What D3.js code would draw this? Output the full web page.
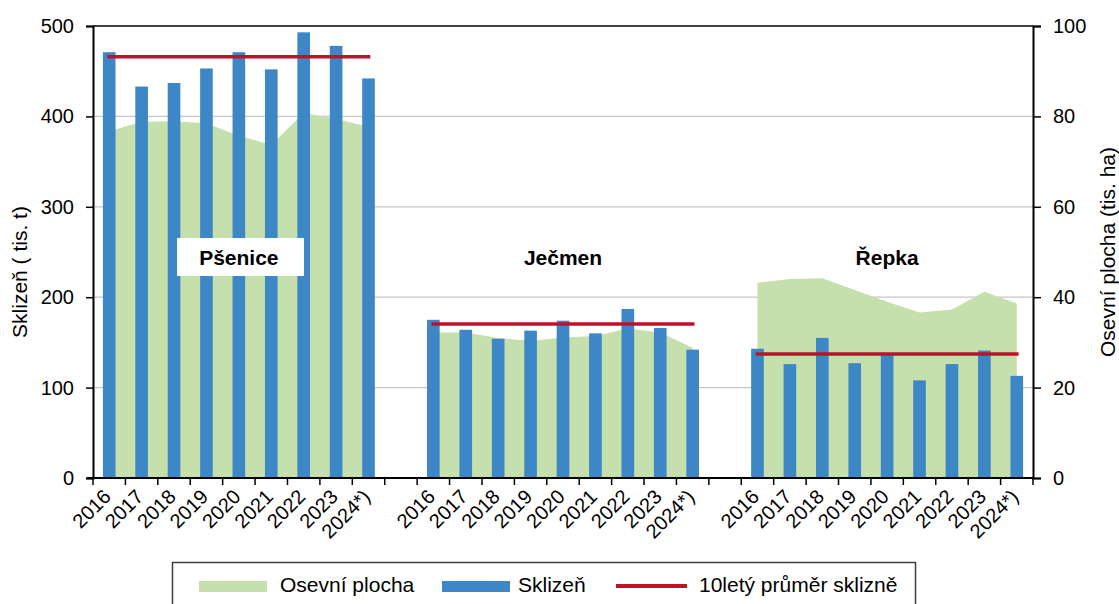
<!DOCTYPE html>
<html>
<head>
<meta charset="utf-8">
<script src="https://cdn.jsdelivr.net/npm/d3@7/dist/d3.min.js"></script>
<style>
  html, body { margin: 0; padding: 0; background: #fff; }
  svg { display: block; }
  text { font-family: "Liberation Sans", Arial, sans-serif; fill: #000; }
</style>
</head>
<body>
<svg id="chart" width="1119" height="604"></svg>
<script>
// ---- data ----
const years = ["2016", "2017", "2018", "2019", "2020", "2021", "2022", "2023", "2024*)"];
const crops = ["Pšenice", "Ječmen", "Řepka"];
// Sklizeň (tis. t)
const harvestPsenice = [471, 433, 437, 453, 471, 452, 493, 478, 442];
const harvestJecmen  = [175, 164, 154, 163, 174, 160, 187, 166, 142];
const harvestRepka   = [143, 126, 155, 127, 136, 108, 126, 141, 113];
// Osevní plocha (tis. ha)
const areaPsenice = [76.7, 78.8, 78.9, 78.5, 75.7, 73.7, 80.8, 79.4, 77.7];
const areaJecmen  = [32.2, 32.2, 31.0, 30.3, 31.1, 31.4, 33.1, 32.2, 28.8];
const areaRepka   = [43.2, 44.0, 44.2, 41.6, 39.0, 36.6, 37.3, 41.2, 38.6];
// 10letý průměr sklizně (tis. t)
const avgHarvest = [466, 170.4, 137.2];
const leftTicks = [0, 100, 200, 300, 400, 500];
const rightTicks = [0, 20, 40, 60, 80, 100];

const harvest = [harvestPsenice, harvestJecmen, harvestRepka];
const area = [areaPsenice, areaJecmen, areaRepka];

// ---- layout ----
const svg = d3.select("#chart");
const L = 93, R = 1033, T = 26, B = 478;
const font = "Liberation Sans, Arial, sans-serif";
const colBlue = "#3e87c7", colGreen = "#c5dfad", colRed = "#c0102a";

// band keys: 9 years per crop with one empty slot between groups
const keys = [];
crops.forEach((c, ci) => {
  years.forEach(y => keys.push(c + "|" + y));
  if (ci < crops.length - 1) keys.push("gap" + ci);
});
const x = d3.scaleBand().domain(keys).range([L, R]).padding(0);
const yL = d3.scaleLinear().domain([0, 500]).range([B, T]);
const yR = d3.scaleLinear().domain([0, 100]).range([B, T]);
const cx = k => x(k) + x.bandwidth() / 2;

// gridlines
svg.append("g").selectAll("line").data(leftTicks.filter(d => d > 0 && d < 500)).join("line")
  .attr("x1", L).attr("x2", R)
  .attr("y1", d => yL(d)).attr("y2", d => yL(d))
  .attr("stroke", "#c6c6c6").attr("stroke-width", 1.2);

// areas
const areaGen = d3.area()
  .x(d => cx(d.k))
  .y0(B)
  .y1(d => yR(d.v));
crops.forEach((c, ci) => {
  const pts = years.map((y, i) => ({ k: c + "|" + y, v: area[ci][i] }));
  svg.append("path").datum(pts).attr("d", areaGen).attr("fill", colGreen);
});

// bars
const bw = x.bandwidth() * 0.39;
crops.forEach((c, ci) => {
  svg.append("g").selectAll("rect")
    .data(years.map((y, i) => ({ k: c + "|" + y, v: harvest[ci][i] })))
    .join("rect")
    .attr("x", d => cx(d.k) - bw / 2)
    .attr("width", bw)
    .attr("y", d => yL(d.v))
    .attr("height", d => B - yL(d.v))
    .attr("fill", colBlue);
});

// average lines
crops.forEach((c, ci) => {
  svg.append("line")
    .attr("x1", cx(c + "|" + years[0]))
    .attr("x2", cx(c + "|" + years[years.length - 1]))
    .attr("y1", yL(avgHarvest[ci])).attr("y2", yL(avgHarvest[ci]))
    .attr("stroke", colRed).attr("stroke-width", 3.6).attr("stroke-linecap", "square");
});

// frame: top border
svg.append("line").attr("x1", L).attr("x2", R).attr("y1", T).attr("y2", T)
  .attr("stroke", "#000").attr("stroke-width", 1.5);

// left axis
const gL = svg.append("g").attr("transform", `translate(${L},0)`)
  .call(d3.axisLeft(yL).tickValues(leftTicks).tickSize(7).tickPadding(12).tickFormat(d3.format("d")));
gL.select(".domain").attr("stroke", "#000").attr("stroke-width", 2);
gL.selectAll(".tick line").attr("stroke", "#000").attr("stroke-width", 1.5);
gL.selectAll(".tick text").attr("font-family", font).attr("font-size", 20).attr("fill", "#000");

// right axis
const gR = svg.append("g").attr("transform", `translate(${R},0)`)
  .call(d3.axisRight(yR).tickValues(rightTicks).tickSize(8).tickPadding(12).tickFormat(d3.format("d")));
gR.select(".domain").attr("stroke", "#000").attr("stroke-width", 2);
gR.selectAll(".tick line").attr("stroke", "#000").attr("stroke-width", 1.5);
gR.selectAll(".tick text").attr("font-family", font).attr("font-size", 20).attr("fill", "#000");

// bottom axis
const boundaries = keys.map(k => x(k)).concat([R]);
svg.append("line").attr("x1", L - 6).attr("x2", R).attr("y1", B).attr("y2", B)
  .attr("stroke", "#000").attr("stroke-width", 2);
svg.append("g").selectAll("line").data(boundaries).join("line")
  .attr("x1", d => d).attr("x2", d => d).attr("y1", B).attr("y2", B + 7)
  .attr("stroke", "#000").attr("stroke-width", 1.5);

// x labels
crops.forEach(c => {
  svg.append("g").selectAll("text").data(years).join("text")
    .attr("transform", y => `translate(${cx(c + "|" + y) + 3},${B + 20}) rotate(-45)`)
    .attr("text-anchor", "end")
    .attr("font-size", 20)
    .text(y => y);
});

// crop labels
const groupCenter = c => (x(c + "|" + years[0]) + x(c + "|" + years[years.length - 1]) + x.bandwidth()) / 2;
svg.append("rect").attr("x", 177).attr("y", 238).attr("width", 127).attr("height", 38).attr("fill", "#fff");
crops.forEach(c => {
  svg.append("text")
    .attr("x", groupCenter(c) + (c === "Pšenice" ? 0 : 0))
    .attr("y", 265)
    .attr("text-anchor", "middle")
    .attr("font-size", 21).attr("font-weight", "bold")
    .text(c);
});

// axis titles
svg.append("text").attr("transform", `translate(27,${(T + B) / 2 + 20}) rotate(-90)`)
  .attr("text-anchor", "middle").attr("font-size", 21).text("Sklizeň ( tis. t)");
svg.append("text").attr("transform", `translate(1115,${(T + B) / 2}) rotate(-90)`)
  .attr("text-anchor", "middle").attr("font-size", 21).text("Osevní plocha (tis. ha)");

// legend
svg.append("rect").attr("x", 172.5).attr("y", 562.5).attr("width", 743).attr("height", 60)
  .attr("fill", "#fff").attr("stroke", "#404040").attr("stroke-width", 1.5);
const lg = svg.append("g");
lg.append("rect").attr("x", 199).attr("y", 581).attr("width", 68).attr("height", 11).attr("fill", colGreen);
lg.append("text").attr("x", 280).attr("y", 592).attr("font-size", 21).text("Osevní plocha");
lg.append("rect").attr("x", 442).attr("y", 581).attr("width", 68).attr("height", 11).attr("fill", colBlue);
lg.append("text").attr("x", 518).attr("y", 592).attr("font-size", 21).text("Sklizeň");
lg.append("line").attr("x1", 616).attr("x2", 687).attr("y1", 586).attr("y2", 586)
  .attr("stroke", colRed).attr("stroke-width", 4);
lg.append("text").attr("x", 699).attr("y", 592).attr("font-size", 21).text("10letý průměr sklizně");
</script>
</body>
</html>
